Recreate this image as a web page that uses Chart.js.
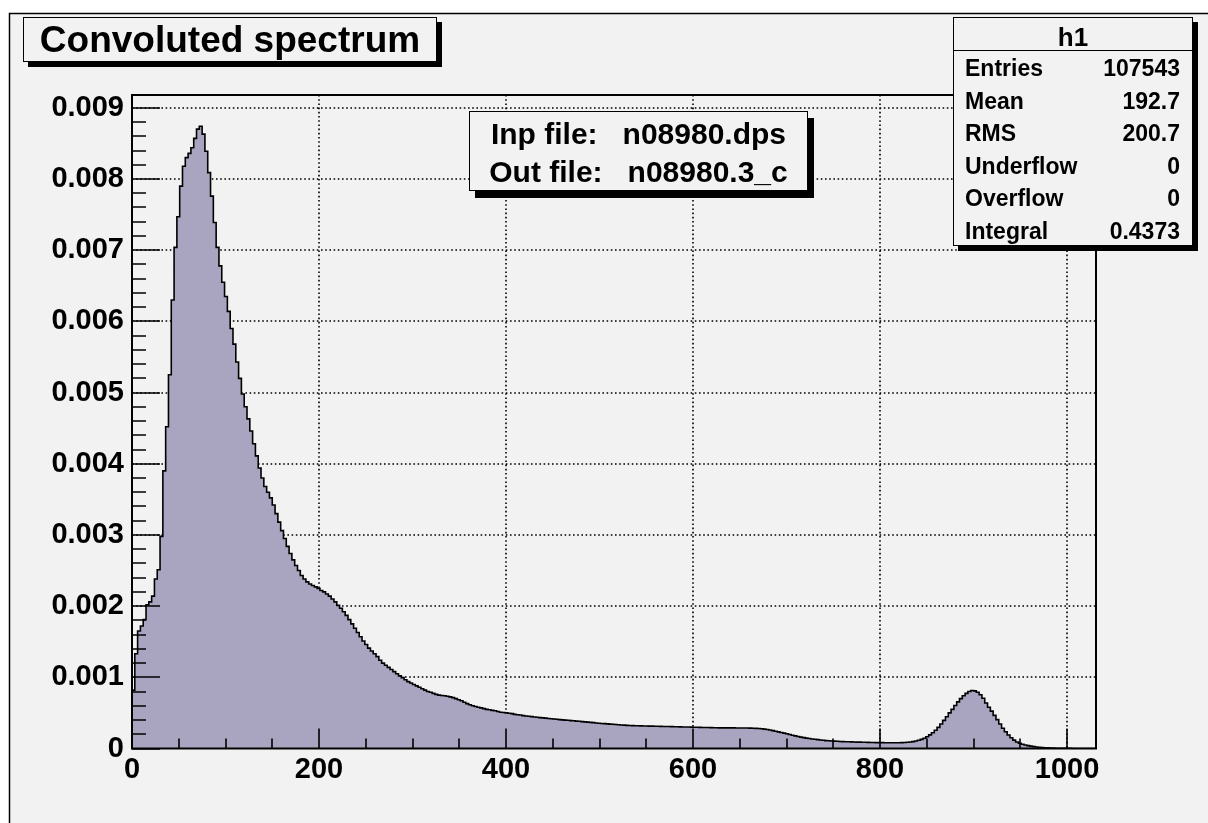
<!DOCTYPE html>
<html lang="en">
<head>
<meta charset="UTF-8">
<title>Convoluted spectrum</title>
<script src="https://cdn.jsdelivr.net/npm/chart.js"></script>
<style>
    body { margin: 0; background: #fff; overflow: hidden; }
    #wrap { position: relative; width: 1208px; height: 823px; font-family: "Liberation Sans", Arial, Helvetica, sans-serif; font-weight: bold; color: #000; }
    canvas { position: absolute; left: 0; top: 0; }
    .pave { position: absolute; box-sizing: border-box; background: #f2f2f2; border: 1px solid #000; }
    #title { left: 23px; top: 17px; width: 414px; height: 45px; font-size: 37px; line-height: 43px; text-align: center; box-shadow: 5px 5px 0 0 #000; }
    #info { left: 469px; top: 111px; width: 339px; height: 80px; font-size: 30px; line-height: 38px; padding-top: 3px; text-align: center; white-space: pre; box-shadow: 6px 7px 0 0 #000; }
    #stats { left: 953px; top: 17px; width: 240px; height: 229px; font-size: 23px; box-shadow: 5px 5px 0 0 #000; }
    #stats .head { height: 32px; line-height: 38px; font-size: 26px; text-align: center; border-bottom: 1px solid #000; }
    #stats .row { display: flex; justify-content: space-between; height: 32.6px; line-height: 34px; padding: 0 12px 0 11px; }
</style>
</head>
<body>
<div id="wrap">
    <canvas id="spectrum" width="1208" height="823"></canvas>
    <div class="pave" id="title">Convoluted spectrum</div>
    <div class="pave" id="info"><div>Inp file:   n08980.dps</div><div>Out file:   n08980.3_c</div></div>
    <div class="pave" id="stats"><div class="head">h1</div></div>
</div>

<script>
    // bin contents in units of 1e-3, bin width 3, starting at x = 0
    const binWidth = 3;
    const yUnit = 1e-3;

    const binsRise = [0.82, 1.33, 1.65, 1.72, 1.81, 2.02, 2.06, 2.14, 2.38, 2.51, 2.98, 3.90, 4.52, 5.25,
        6.30, 7.04, 7.47, 7.90, 8.18, 8.30, 8.36, 8.44, 8.57, 8.70, 8.74, 8.63, 8.39, 8.09, 7.76, 7.39,
        7.04, 6.78, 6.55, 6.35, 6.14, 5.90, 5.68, 5.43, 5.20, 4.98, 4.80, 4.63];

    const binsShoulder = [4.46, 4.28, 4.11, 3.94, 3.80, 3.68, 3.60, 3.52, 3.42, 3.30,
        3.18, 3.06, 2.95, 2.84, 2.74, 2.65, 2.57, 2.50, 2.43, 2.38,
        2.34, 2.31, 2.29, 2.27, 2.25, 2.22, 2.20, 2.17, 2.14, 2.10,
        2.06, 2.01, 1.97, 1.92, 1.87, 1.81, 1.75, 1.69, 1.63, 1.57,
        1.51, 1.46, 1.41, 1.37, 1.33, 1.29, 1.24, 1.20, 1.17, 1.14,
        1.11, 1.08, 1.05, 1.02, 0.995, 0.965, 0.94, 0.92];

    const binsTail = [0.90, 0.88, 0.86, 0.84, 0.82, 0.80, 0.79, 0.775, 0.76, 0.75,
        0.745, 0.74, 0.735, 0.725, 0.715, 0.70, 0.685, 0.67, 0.65, 0.63,
        0.615, 0.60, 0.59, 0.58, 0.57, 0.56, 0.55, 0.545, 0.535, 0.53,
        0.52, 0.51, 0.505, 0.50, 0.495, 0.49, 0.48, 0.475, 0.47, 0.462,
        0.456, 0.452, 0.448, 0.443, 0.438, 0.434, 0.43, 0.426, 0.422, 0.418,
        0.414, 0.41, 0.406, 0.402, 0.399, 0.396, 0.392, 0.389, 0.385, 0.382,
        0.378, 0.374, 0.371, 0.367, 0.363, 0.359, 0.355, 0.352, 0.349, 0.346,
        0.343, 0.34, 0.337, 0.334, 0.331, 0.328, 0.325, 0.323, 0.322, 0.32,
        0.319, 0.318, 0.317, 0.316, 0.315, 0.314, 0.313, 0.312, 0.311, 0.31,
        0.309, 0.308, 0.307, 0.306, 0.305, 0.304, 0.303, 0.302, 0.301, 0.30];

    const binsPlateau = [0.299, 0.298, 0.297, 0.296, 0.295, 0.294, 0.293, 0.292, 0.291, 0.29,
        0.29, 0.29, 0.29, 0.29, 0.29, 0.289, 0.289, 0.288, 0.288, 0.287,
        0.286, 0.285, 0.283, 0.28, 0.277, 0.272, 0.266, 0.259, 0.251, 0.243,
        0.234, 0.225, 0.216, 0.207, 0.197, 0.187, 0.177, 0.168, 0.16, 0.153,
        0.146, 0.14, 0.134, 0.129, 0.124, 0.119, 0.115, 0.111, 0.108, 0.105,
        0.103, 0.101, 0.099, 0.097, 0.095, 0.094, 0.093, 0.091, 0.09, 0.089,
        0.088, 0.087, 0.086, 0.085, 0.084, 0.083, 0.082, 0.082, 0.081, 0.081,
        0.08, 0.08, 0.08, 0.081, 0.082, 0.084];

    const binsBump = [0.087, 0.091, 0.097, 0.105, 0.116, 0.128, 0.145, 0.166, 0.192, 0.222,
        0.256, 0.297, 0.345, 0.395, 0.445, 0.50, 0.55, 0.605, 0.655, 0.70,
        0.74, 0.775, 0.80, 0.815, 0.81, 0.79, 0.755, 0.705, 0.64, 0.58,
        0.525, 0.465, 0.405, 0.345, 0.285, 0.235, 0.19, 0.15, 0.117, 0.092,
        0.074, 0.06, 0.049, 0.04, 0.033, 0.027, 0.022, 0.018, 0.014, 0.011,
        0.009, 0.007, 0.0055, 0.0045, 0.0035, 0.003, 0.0025, 0.002, 0.0015, 0.001,
        0.0008, 0.0006, 0.0005, 0.0004, 0.0003, 0.0002, 0.0001, 0];

    const xTickValues = [0, 200, 400, 600, 800, 1000];
    const xTickLabels = ['0', '200', '400', '600', '800', '1000'];
    const yTickValues = [0, 0.001, 0.002, 0.003, 0.004, 0.005, 0.006, 0.007, 0.008, 0.009];
    const yTickLabels = ['0', '0.001', '0.002', '0.003', '0.004', '0.005', '0.006', '0.007', '0.008', '0.009'];

    const statNames = ['Entries', 'Mean', 'RMS', 'Underflow', 'Overflow', 'Integral'];
    const statValues = ['107543', '192.7', '200.7', '0', '0', '0.4373'];

    let statsBox = document.getElementById('stats');
    statNames.forEach((name, i) => {
        let row = document.createElement('div');
        row.className = 'row';
        row.innerHTML = '<span>' + name + '</span><span>' + statValues[i] + '</span>';
        statsBox.appendChild(row);
    });

    let bins = binsRise.concat(binsShoulder, binsTail, binsPlateau, binsBump);
    let points = bins.map((v, i) => ({ x: i * binWidth, y: v * yUnit }));
    points.push({ x: bins.length * binWidth, y: bins[bins.length - 1] * yUnit });

    const X_MAX = 1031;
    const Y_MAX = 0.00918;

    // ROOT style frame: dotted grid under the fill, ticks drawn inside the frame
    const rootFrame = {
        id: 'rootFrame',
        beforeDraw(chart) {
            let ctx = chart.ctx;
            ctx.save();
            ctx.fillStyle = '#fff';
            ctx.fillRect(0, 0, chart.width, chart.height);
            ctx.fillStyle = '#f2f2f2';
            ctx.fillRect(9, 13, chart.width, chart.height);
            ctx.strokeStyle = '#000';
            ctx.lineWidth = 1.5;
            ctx.beginPath();
            ctx.moveTo(9.5, chart.height);
            ctx.lineTo(9.5, 13.5);
            ctx.lineTo(chart.width, 13.5);
            ctx.stroke();
            ctx.restore();
        },
        beforeDatasetsDraw(chart) {
            let { ctx, chartArea: a, scales: { x, y } } = chart;
            ctx.save();
            ctx.strokeStyle = '#000';
            ctx.lineWidth = 1.6;
            ctx.setLineDash([1.6, 2.6]);
            ctx.beginPath();
            for (let v of xTickValues.slice(1)) {
                let px = Math.round(x.getPixelForValue(v));
                ctx.moveTo(px, a.top);
                ctx.lineTo(px, a.bottom);
            }
            for (let v of yTickValues.slice(1)) {
                let py = Math.round(y.getPixelForValue(v));
                ctx.moveTo(a.left, py);
                ctx.lineTo(a.right, py);
            }
            ctx.stroke();
            ctx.restore();
        },
        afterDatasetsDraw(chart) {
            let { ctx, chartArea: a, scales: { x, y } } = chart;
            ctx.save();
            ctx.strokeStyle = '#000';
            ctx.lineWidth = 1.6;
            ctx.beginPath();
            for (let v = 0; v <= Y_MAX + 1e-9; v += 0.0002) {
                let py = Math.round(y.getPixelForValue(v));
                let major = Math.abs(v / 0.001 - Math.round(v / 0.001)) < 1e-6;
                ctx.moveTo(a.left, py);
                ctx.lineTo(a.left + (major ? 28 : 14), py);
            }
            for (let v = 0; v <= X_MAX; v += 50) {
                let px = Math.round(x.getPixelForValue(v));
                ctx.moveTo(px, a.bottom);
                ctx.lineTo(px, a.bottom - (v % 200 === 0 ? 20 : 10));
            }
            ctx.stroke();
            ctx.lineWidth = 2;
            ctx.strokeRect(a.left, a.top, a.right - a.left, a.bottom - a.top);
            ctx.restore();
        }
    };

    Chart.defaults.font.family = '"Liberation Sans", Arial, Helvetica, sans-serif';
    Chart.defaults.color = '#000';

    let ctx = document.getElementById('spectrum').getContext('2d');
    let chart = new Chart(ctx, {
        type: 'line',
        data: {
            datasets: [{
                label: 'h1',
                data: points,
                stepped: 'before',
                fill: 'origin',
                backgroundColor: 'rgb(169, 165, 192)',
                borderColor: '#000',
                borderWidth: 1.6,
                pointRadius: 0
            }]
        },
        options: {
            responsive: false,
            animation: false,
            devicePixelRatio: 1,
            layout: { padding: { left: 0, right: 112, top: 95, bottom: 0 } },
            plugins: {
                legend: { display: false },
                tooltip: { enabled: false },
                title: { display: false }
            },
            scales: {
                x: {
                    type: 'linear',
                    min: 0,
                    max: X_MAX,
                    grid: { display: false, drawTicks: false },
                    border: { display: false },
                    afterBuildTicks: s => { s.ticks = xTickValues.map(v => ({ value: v })); },
                    afterFit: s => { s.height = 823 - 748.5; },
                    ticks: {
                        font: { size: 29, weight: 'bold' },
                        padding: 4,
                        maxRotation: 0,
                        autoSkip: false,
                        callback: (v, i) => xTickLabels[i]
                    }
                },
                y: {
                    type: 'linear',
                    min: 0,
                    max: Y_MAX,
                    grid: { display: false, drawTicks: false },
                    border: { display: false },
                    afterBuildTicks: s => { s.ticks = yTickValues.map(v => ({ value: v })); },
                    afterFit: s => { s.width = 132; },
                    ticks: {
                        font: { size: 29, weight: 'bold' },
                        padding: 8,
                        autoSkip: false,
                        callback: (v, i) => yTickLabels[i]
                    }
                }
            }
        },
        plugins: [rootFrame]
    });
</script>
</body>
</html>
